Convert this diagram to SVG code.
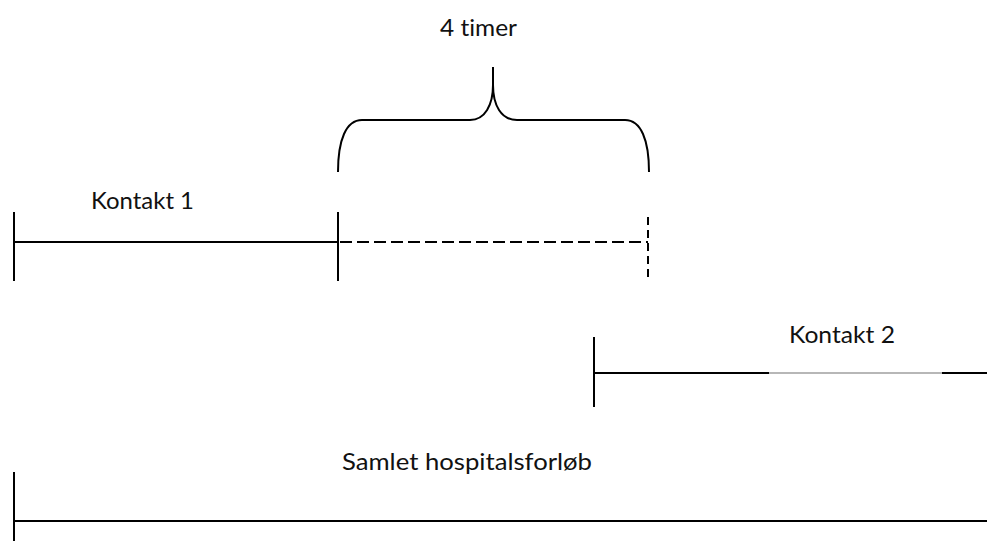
<svg xmlns="http://www.w3.org/2000/svg" width="987" height="543" viewBox="0 0 987 543">
<style>
.ln{stroke:#000;stroke-width:2;fill:none}
.dash{stroke:#000;stroke-width:2;fill:none;stroke-dasharray:12 5}
.vdash{stroke:#000;stroke-width:2;fill:none;stroke-dasharray:8 5}
.thin{stroke:#707070;stroke-width:1.2;fill:none}
.t{font-family:Lato,"Liberation Sans",sans-serif;font-size:23px;fill:#111;font-variant-ligatures:none;font-feature-settings:"liga" 0}
</style>
<rect width="987" height="543" fill="#fff"/>
<g id="connectors">
<line class="ln" x1="14" y1="242" x2="338" y2="242"/>
<line class="dash" x1="340" y1="242" x2="648" y2="242"/>
<line class="ln" x1="594" y1="373" x2="769" y2="373"/>
<line class="thin" x1="769" y1="373" x2="942" y2="373"/>
<line class="ln" x1="942" y1="373" x2="987" y2="373"/>
<line class="ln" x1="14" y1="521" x2="987" y2="521"/>
</g>
<g id="brace">
<path class="ln" d="M338,172 C338,140 346,120 362,120 L470,120 C485,120 493,105 493,85 L493,67 M493,85 C493,105 501,120 517,120 L625,120 C641,120 649,140 649,172"/>
<text class="t" x="440" y="36" textLength="77" lengthAdjust="spacingAndGlyphs">4 timer</text>
</g>
<g id="kontakt1">
<line class="ln" x1="14" y1="212" x2="14" y2="281"/>
<line class="ln" x1="338" y1="212" x2="338" y2="281"/>
<line class="vdash" x1="648" y1="217" x2="648" y2="281"/>
<text class="t" x="91" y="208.5" textLength="103" lengthAdjust="spacingAndGlyphs">Kontakt 1</text>
</g>
<g id="kontakt2">
<line class="ln" x1="594" y1="337" x2="594" y2="407"/>
<text class="t" x="789" y="342.5" textLength="106" lengthAdjust="spacingAndGlyphs">Kontakt 2</text>
</g>
<g id="samlet">
<line class="ln" x1="14" y1="472" x2="14" y2="541"/>
<text class="t" x="342" y="470" textLength="250" lengthAdjust="spacingAndGlyphs">Samlet hospitalsforløb</text>
</g>
</svg>
